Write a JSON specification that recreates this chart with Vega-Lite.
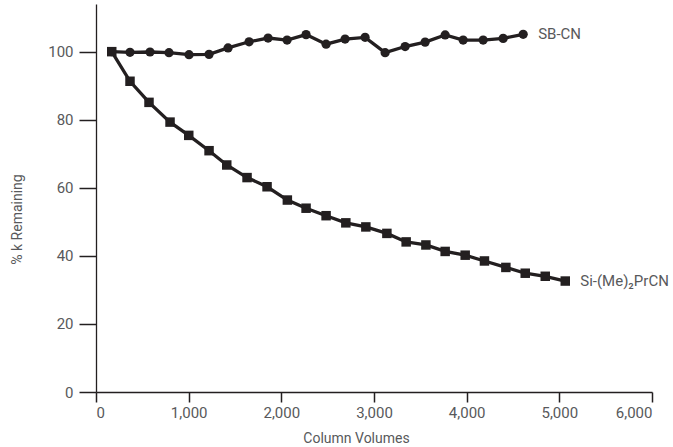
{
  "$schema": "https://vega.github.io/schema/vega-lite/v6.json",
  "width": 556,
  "height": 388,
  "autosize": {"type": "none"},
  "padding": {"left": 96, "top": 4, "right": 21, "bottom": 55},
  "background": "white",
  "config": {
    "view": {"stroke": null},
    "font": "Roboto",
    "axis": {
      "domainColor": "#231f20",
      "domainWidth": 1.3,
      "tickColor": "#231f20",
      "tickWidth": 1.5,
      "labelColor": "#58595b",
      "labelFont": "Roboto",
      "labelFontSize": 15,
      "titleColor": "#58595b",
      "titleFont": "Roboto",
      "titleFontSize": 14,
      "titleFontWeight": "normal",
      "grid": false
    }
  },
  "datasets": {
    "main": [
      {"series": "SB-CN", "cv": 170, "pct": 100},
      {"series": "SB-CN", "cv": 367, "pct": 99.8},
      {"series": "SB-CN", "cv": 583, "pct": 99.9},
      {"series": "SB-CN", "cv": 788, "pct": 99.7},
      {"series": "SB-CN", "cv": 1004, "pct": 99.1},
      {"series": "SB-CN", "cv": 1220, "pct": 99.2},
      {"series": "SB-CN", "cv": 1425, "pct": 101.1},
      {"series": "SB-CN", "cv": 1652, "pct": 102.9},
      {"series": "SB-CN", "cv": 1857, "pct": 104.0},
      {"series": "SB-CN", "cv": 2062, "pct": 103.4},
      {"series": "SB-CN", "cv": 2267, "pct": 105.0},
      {"series": "SB-CN", "cv": 2483, "pct": 102.2},
      {"series": "SB-CN", "cv": 2688, "pct": 103.7},
      {"series": "SB-CN", "cv": 2904, "pct": 104.2},
      {"series": "SB-CN", "cv": 3120, "pct": 99.7},
      {"series": "SB-CN", "cv": 3336, "pct": 101.5},
      {"series": "SB-CN", "cv": 3552, "pct": 102.8},
      {"series": "SB-CN", "cv": 3768, "pct": 104.9},
      {"series": "SB-CN", "cv": 3962, "pct": 103.4},
      {"series": "SB-CN", "cv": 4178, "pct": 103.4},
      {"series": "SB-CN", "cv": 4394, "pct": 103.9},
      {"series": "SB-CN", "cv": 4610, "pct": 105.1},
      {"series": "Si-(Me)2PrCN", "cv": 170, "pct": 100},
      {"series": "Si-(Me)2PrCN", "cv": 367, "pct": 91.3},
      {"series": "Si-(Me)2PrCN", "cv": 572, "pct": 85.1},
      {"series": "Si-(Me)2PrCN", "cv": 799, "pct": 79.3},
      {"series": "Si-(Me)2PrCN", "cv": 1001, "pct": 75.4},
      {"series": "Si-(Me)2PrCN", "cv": 1220, "pct": 70.9},
      {"series": "Si-(Me)2PrCN", "cv": 1411, "pct": 66.7},
      {"series": "Si-(Me)2PrCN", "cv": 1630, "pct": 63.0},
      {"series": "Si-(Me)2PrCN", "cv": 1846, "pct": 60.3},
      {"series": "Si-(Me)2PrCN", "cv": 2065, "pct": 56.4},
      {"series": "Si-(Me)2PrCN", "cv": 2267, "pct": 54.0},
      {"series": "Si-(Me)2PrCN", "cv": 2483, "pct": 51.8},
      {"series": "Si-(Me)2PrCN", "cv": 2696, "pct": 49.7},
      {"series": "Si-(Me)2PrCN", "cv": 2912, "pct": 48.5},
      {"series": "Si-(Me)2PrCN", "cv": 3139, "pct": 46.6},
      {"series": "Si-(Me)2PrCN", "cv": 3347, "pct": 44.1},
      {"series": "Si-(Me)2PrCN", "cv": 3560, "pct": 43.2},
      {"series": "Si-(Me)2PrCN", "cv": 3768, "pct": 41.3},
      {"series": "Si-(Me)2PrCN", "cv": 3984, "pct": 40.2},
      {"series": "Si-(Me)2PrCN", "cv": 4192, "pct": 38.5},
      {"series": "Si-(Me)2PrCN", "cv": 4423, "pct": 36.6},
      {"series": "Si-(Me)2PrCN", "cv": 4632, "pct": 34.9},
      {"series": "Si-(Me)2PrCN", "cv": 4848, "pct": 34.0},
      {"series": "Si-(Me)2PrCN", "cv": 5064, "pct": 32.6}
    ],
    "labels": [
      {"series": "SB-CN", "cv": 4610, "pct": 105.1, "label": "SB-CN"},
      {"series": "Si-(Me)2PrCN", "cv": 5064, "pct": 32.6, "label": "Si-(Me)₂PrCN"}
    ]
  },
  "encoding": {
    "x": {
      "field": "cv", "type": "quantitative",
      "scale": {"domain": [0, 6000], "nice": false, "zero": false},
      "axis": {
        "title": "Column Volumes",
        "values": [0, 1000, 2000, 3000, 4000, 5000, 6000],
        "format": ",d",
        "tickSize": 10,
        "labelPadding": 3,
        "titleX": 260,
        "titleY": 46,
        "titleAlign": "center",
        "titleBaseline": "middle"
      }
    },
    "y": {
      "field": "pct", "type": "quantitative",
      "scale": {"domain": [0, 114], "nice": false, "zero": false},
      "axis": {
        "title": "% k Remaining",
        "values": [0, 20, 40, 60, 80, 100],
        "tickSize": 17,
        "labelPadding": 6,
        "titleX": -79,
        "titleY": 215,
        "titleAngle": -90,
        "titleAlign": "center",
        "titleBaseline": "middle"
      }
    }
  },
  "layer": [
    {
      "data": {"name": "main"},
      "mark": {"type": "line", "strokeWidth": 3.3, "color": "#231f20"},
      "encoding": {"detail": {"field": "series"}}
    },
    {
      "data": {"name": "main"},
      "mark": {"type": "point", "filled": true, "opacity": 1, "color": "#231f20"},
      "encoding": {
        "shape": {
          "field": "series", "type": "nominal",
          "scale": {"domain": ["SB-CN", "Si-(Me)2PrCN"], "range": ["circle", "square"]},
          "legend": null
        },
        "size": {
          "field": "series", "type": "nominal",
          "scale": {"domain": ["SB-CN", "Si-(Me)2PrCN"], "range": [85, 90]},
          "legend": null
        }
      }
    },
    {
      "data": {"name": "labels"},
      "mark": {"type": "text", "align": "left", "baseline": "middle", "dx": 15, "fontSize": 15, "color": "#58595b", "font": "Roboto"},
      "encoding": {"text": {"field": "label"}}
    }
  ]
}
